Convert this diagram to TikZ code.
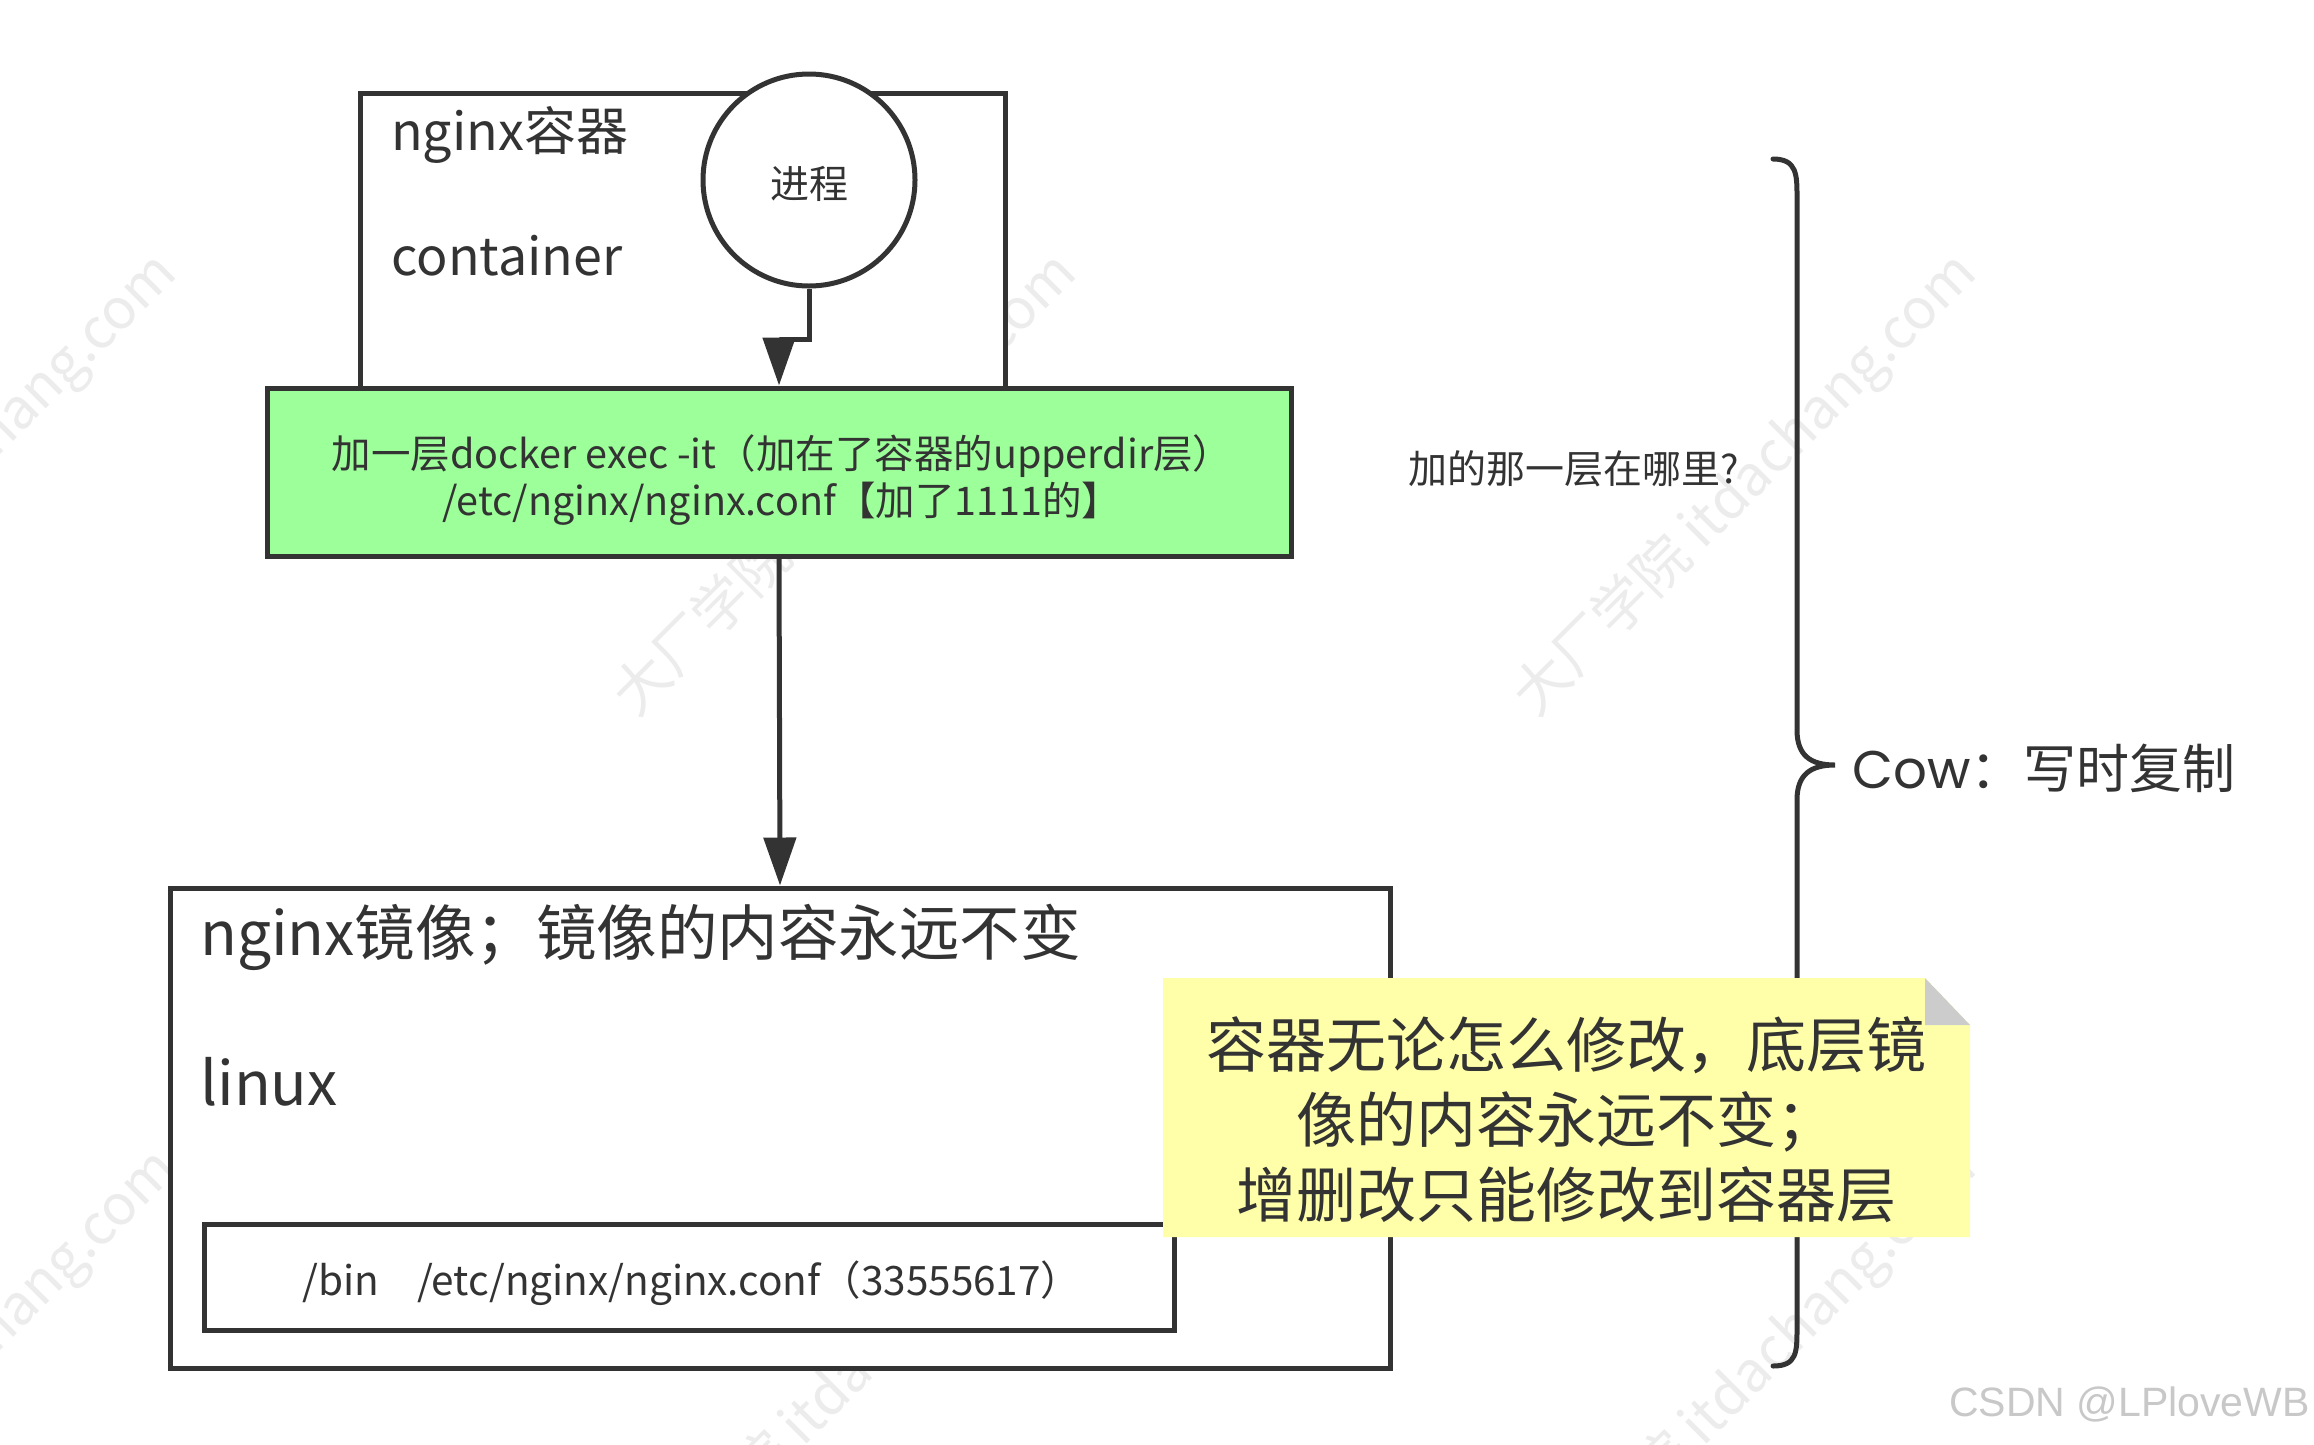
\documentclass[tikz,border=0pt]{standalone}
\usepackage{fontspec}
\setmainfont{Noto Sans CJK SC}
\newfontfamily\poppinsfont{Poppins}
\newfontfamily\arialfont{Liberation Sans}
\usetikzlibrary{arrows.meta}
\definecolor{ink}{HTML}{333333}
\definecolor{greenfill}{HTML}{9CFF99}
\definecolor{notefill}{HTML}{FFFFAA}
\definecolor{foldgray}{HTML}{CCCCCC}
\definecolor{csdngray}{HTML}{C8C8C8}
\definecolor{wmgray}{HTML}{ECECEC}
\newcommand\myfs[2]{\fontsize{#1}{#2}\selectfont}
\tikzset{
  boxline/.style={draw=ink, line width=5pt},
  plainbox/.style={boxline, rectangle, inner sep=0pt, fill=white},
  txt/.style={text=ink, inner sep=0pt},
  arr/.style={draw=ink, line width=5pt, -{Triangle[length=48pt,width=32pt]}},
  wmark/.style={text=wmgray, inner sep=0pt, rotate=45, font=\myfs{56}{56}},
}
\begin{document}
\begin{tikzpicture}[x=1pt,y=-1pt]
\useasboundingbox (0,0) rectangle (2314,1444);
\fill[white] (0,0) rectangle (2314,1444);

% watermarks (beneath everything)
\foreach \wx/\wy [count=\wi] in {-54/485, 846/485, 1746/485, -54/1381, 846/1381, 1746/1381}
  \node[wmark] (wm\wi) at (\wx,\wy) {大厂学院 itdachang.com};

% container
\node[plainbox, minimum width=645pt, minimum height=295pt] (cont) at (682.5,240.5) {};
\node[txt, anchor=base west, font=\myfs{52}{52}] (conttitle) at (391,150) {nginx容器};
\node[txt, anchor=base west, font=\myfs{52}{52}] (contsub) at (391,275) {container};

% process circle
\node[boxline, circle, fill=white, minimum size=212pt, inner sep=0pt] (proc) at (809,180) {};
\node[txt, font=\myfs{39}{39}] (proclabel) at (809,184) {进程};

% green layer
\node[boxline, rectangle, fill=greenfill, minimum width=1024pt, minimum height=168pt, inner sep=0pt] (layer) at (779,472) {};
\node[txt, font=\myfs{39.5}{47}, align=center] (layertext) at (782,480)
  {加一层docker exec -it（加在了容器的upperdir层）\\/etc/nginx/nginx.conf【加了1111的】};

% image box
\node[plainbox, minimum width=1220pt, minimum height=480pt] (img) at (780,1128) {};
\node[txt, anchor=base west, font=\myfs{60.5}{60.5}] (imgtitle) at (200,955) {nginx镜像；镜像的内容永远不变};
\node[txt, anchor=base west, font=\myfs{60.5}{60.5}] (imgsub) at (200,1105) {linux};

% inner fs box
\node[plainbox, minimum width=970pt, minimum height=106pt] (fs) at (689,1277) {};
\node[txt, anchor=base west, font=\myfs{40.5}{40.5}] (fstext) at (302,1295) {/bin\hspace{0.95em}/etc/nginx/nginx.conf（33555617）};

% connectors
\draw[arr] (proc.south) -- ++(0,51) -| (layer.north);
\draw[arr] (layer.south) -- (img.north);

% brace
\coordinate (bt) at (1773,159);
\coordinate (bb) at (1773,1366);
\coordinate (btip) at (1835,765);
\draw[ink, line width=5pt, line cap=round]
  (bt) .. controls (1797,159) and (1797,175) .. (1797,197)
  -- (1797,730) .. controls (1797,755) and (1810,765) .. (btip)
  .. controls (1810,765) and (1797,775) .. (1797,800)
  -- (1797,1328) .. controls (1797,1352) and (1797,1366) .. (bb);
\node[txt, anchor=west, font=\myfs{53}{53}] (cow) at (1852,768) {{\poppinsfont Cow}：写时复制};
\node[txt, anchor=west, font=\myfs{39}{39}] (where) at (1408,469) {加的那一层在哪里?};

% note
\coordinate (nA) at (1163,978);
\coordinate (nB) at (1925,978);
\coordinate (nC) at (1970,1025);
\coordinate (nD) at (1970,1237);
\coordinate (nE) at (1163,1237);
\fill[notefill] (nA) -- (nB) -- (nC) -- (nD) -- (nE) -- cycle;
\fill[foldgray] (nB) -- (nC) -- (1925,1025) -- cycle;
\node[txt, align=center, font=\myfs{60}{75}] (notetext) at (1566,1120)
  {容器无论怎么修改，底层镜\\像的内容永远不变；\\增删改只能修改到容器层};

% csdn mark
\node[anchor=east, inner sep=0pt, text=csdngray, font={\arialfont\myfs{41}{41}}] (csdn) at (2310,1404) {CSDN @LPloveWB};
\end{tikzpicture}
\end{document}
